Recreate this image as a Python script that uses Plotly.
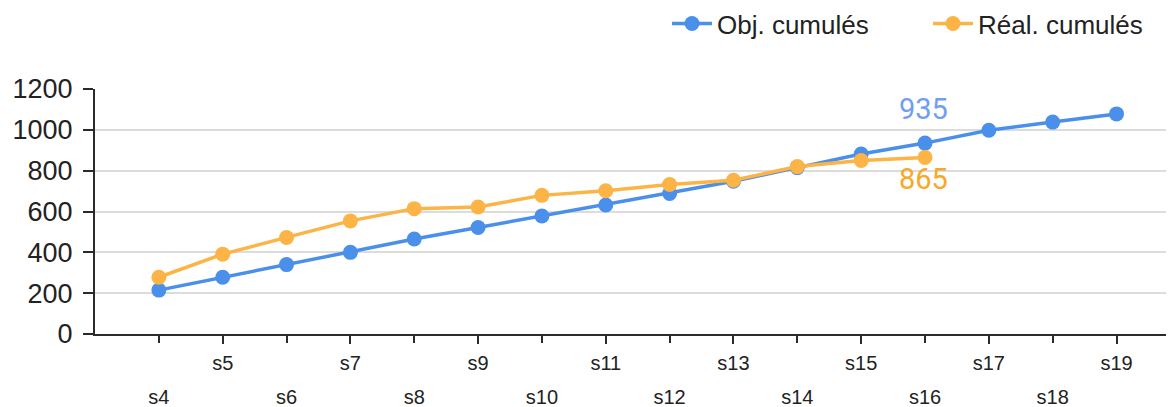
import plotly.graph_objects as go

weeks = ["s4", "s5", "s6", "s7", "s8", "s9", "s10", "s11", "s12", "s13",
         "s14", "s15", "s16", "s17", "s18", "s19"]
obj_cumules = [215, 278, 340, 400, 465, 522, 578, 632, 688, 748,
               815, 882, 935, 998, 1038, 1078]
real_cumules = [278, 391, 473, 554, 614, 622, 679, 702, 732, 753,
                820, 850, 865]

y_ticks = [0, 200, 400, 600, 800, 1000, 1200]

BLUE = "#4a8fea"
ORANGE = "#fbb445"
LABEL_BLUE = "#6f9ef2"
LABEL_ORANGE = "#f9a825"
AXIS = "#2b2b2b"
FONT = "Liberation Sans, Arial, sans-serif"
NARROW = "Liberation Sans Narrow, Liberation Sans, Arial, sans-serif"

# the page body adds an 8px offset; margins below compensate for it
fig = go.Figure()
fig.add_trace(go.Scatter(
    x=weeks, y=obj_cumules, name="Obj. cumulés", mode="lines+markers",
    line=dict(color=BLUE, width=3.5), marker=dict(color=BLUE, size=15),
    xaxis="x", yaxis="y"))
fig.add_trace(go.Scatter(
    x=weeks[:len(real_cumules)], y=real_cumules, name="Réal. cumulés",
    mode="lines+markers",
    line=dict(color=ORANGE, width=3.5), marker=dict(color=ORANGE, size=15),
    xaxis="x2", yaxis="y"))

i_last = len(real_cumules) - 1
fig.add_annotation(x=weeks[i_last], y=obj_cumules[i_last], xref="x", yref="y",
                   text=str(obj_cumules[i_last]), showarrow=False, yshift=34, xshift=-2,
                   font=dict(family="Roboto, " + FONT, size=29, color=LABEL_BLUE))
fig.add_annotation(x=weeks[i_last], y=real_cumules[i_last], xref="x", yref="y",
                   text=str(real_cumules[i_last]), showarrow=False, yshift=-22, xshift=-2,
                   font=dict(family="Roboto, " + FONT, size=29, color=LABEL_ORANGE))

common_x = dict(
    type="category", categoryorder="array", categoryarray=weeks,
    range=[-1, 15.9], showgrid=False, zeroline=False, automargin=False,
    ticks="outside", ticklen=8, tickwidth=2, tickcolor=AXIS,
    tickfont=dict(family=NARROW, size=20, color="#222222"),
)

fig.update_layout(
    width=1174, height=407,
    margin=dict(l=87, r=8, t=81, b=81, autoexpand=False),
    paper_bgcolor="white", plot_bgcolor="white",
    font=dict(family=FONT, color="#222222"),
    showlegend=True,
    legend=dict(orientation="h", x=(667 - 8 - 87) / (1174 - 95), xanchor="left",
                y=1.363, yanchor="top",
                font=dict(family=FONT, size=26, color="#222222"),
                entrywidth=206, entrywidthmode="pixels",
                itemwidth=40, traceorder="normal"),
    xaxis=dict(**common_x, tickmode="array", tickvals=weeks[1::2],
               ticktext=weeks[1::2], ticklabelstandoff=2,
               showline=True, linecolor=AXIS, linewidth=2),
    xaxis2=dict(**common_x, tickmode="array", tickvals=weeks[0::2],
                ticktext=weeks[0::2], ticklabelstandoff=37,
                overlaying="x", matches="x", anchor="y", side="bottom",
                showline=False),
    yaxis=dict(range=[0, 1200], tickmode="array", tickvals=y_ticks,
               showgrid=True, gridcolor="#dcdcdc", gridwidth=1.5,
               zeroline=False, showline=True, linecolor=AXIS, linewidth=2,
               automargin=False, ticklabelstandoff=5,
               ticks="outside", ticklen=10, tickwidth=2, tickcolor=AXIS,
               tickfont=dict(family=FONT, size=27, color="#222222")),
)

fig.write_html("out.html")
